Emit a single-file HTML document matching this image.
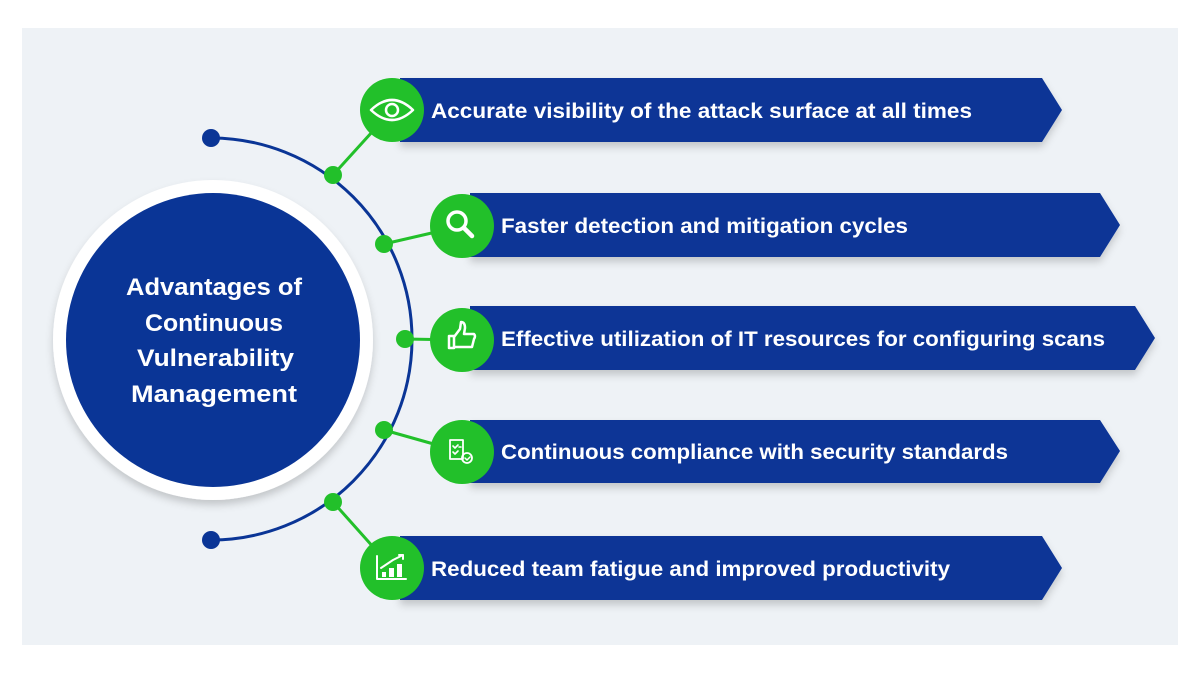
<!DOCTYPE html>
<html><head><meta charset="utf-8"><style>
body{margin:0;background:#fff;}
svg{display:block}
text{font-family:"Liberation Sans",sans-serif}
</style></head><body>
<svg width="1200" height="675" viewBox="0 0 1200 675">
<defs>
<filter id="sh" x="-10%" y="-30%" width="120%" height="170%"><feDropShadow dx="0" dy="5" stdDeviation="4" flood-color="#000" flood-opacity="0.18"/></filter>
</defs>
<rect x="22" y="28" width="1156" height="617" fill="#eef2f6"/>
<circle cx="213" cy="340" r="160" fill="#fff" filter="url(#sh)"/>
<circle cx="213" cy="340" r="147" fill="#0a3596"/>
<g fill="#fff" font-size="24" font-weight="bold" lengthAdjust="spacingAndGlyphs">
<text x="126" y="295" textLength="176" lengthAdjust="spacingAndGlyphs">Advantages of</text>
<text x="145" y="331" textLength="138" lengthAdjust="spacingAndGlyphs">Continuous</text>
<text x="137" y="366" textLength="157" lengthAdjust="spacingAndGlyphs">Vulnerability</text>
<text x="131" y="402" textLength="166" lengthAdjust="spacingAndGlyphs">Management</text>
</g>
<path d="M211 138 A201 201 0 0 1 211 540" fill="none" stroke="#0a3596" stroke-width="3"/>
<circle cx="211" cy="138" r="9" fill="#0a3596"/>
<circle cx="211" cy="540" r="9" fill="#0a3596"/>
<g stroke="#22c02a" stroke-width="3">
<line x1="333" y1="175" x2="392" y2="110"/>
<line x1="384" y1="244" x2="462" y2="226"/>
<line x1="405" y1="339" x2="462" y2="340"/>
<line x1="384" y1="430" x2="462" y2="452"/>
<line x1="333" y1="502" x2="392" y2="568"/>
</g>
<g fill="#22c02a">
<circle cx="333" cy="175" r="9"/><circle cx="384" cy="244" r="9"/><circle cx="405" cy="339" r="9"/><circle cx="384" cy="430" r="9"/><circle cx="333" cy="502" r="9"/>
</g>
<g fill="#0a3596" filter="url(#sh)">
<polygon points="400,78 1042,78 1062,110 1042,142 400,142"/>
<polygon points="470,193 1100,193 1120,225 1100,257 470,257"/>
<polygon points="470,306 1135,306 1155,338 1135,370 470,370"/>
<polygon points="470,420 1100,420 1120,451 1100,483 470,483"/>
<polygon points="400,536 1042,536 1062,568 1042,600 400,600"/>
</g>
<g fill="#22c02a">
<circle cx="392" cy="110" r="32"/><circle cx="462" cy="226" r="32"/><circle cx="462" cy="340" r="32"/><circle cx="462" cy="452" r="32"/><circle cx="392" cy="568" r="32"/>
</g>
<g fill="none" stroke="#fff" stroke-width="2.5" stroke-linecap="round" stroke-linejoin="round">
<path d="M371 110 Q392 90 413 110 Q392 130 371 110Z"/><circle cx="392" cy="110" r="6"/>
<circle cx="457" cy="221" r="9" stroke-width="3.5"/><line x1="464" y1="228" x2="472" y2="236" stroke-width="4.5"/>
<rect x="449" y="336" width="5" height="12"/><path d="M454 337 L460 329 L461 322 Q465 322 465 328 L464 334 L474 334 Q476 336 474 339 L472 347 L454 347"/>
<rect x="450" y="440" width="13" height="19" stroke-width="1.8"/><path d="M453 446 l2 2 3-3 M453 452 l2 2 3-3 M459 447 h2" stroke-width="1.6"/><circle cx="467" cy="458" r="5" stroke-width="1.8"/><path d="M465 458 l2 2 3-3" stroke-width="1.5"/>
<path d="M377 556 V579 H406" stroke-width="2"/><rect x="382" y="572" width="4" height="5" fill="#fff" stroke="none"/><rect x="389" y="568" width="5" height="9" fill="#fff" stroke="none"/><rect x="397" y="564" width="5" height="13" fill="#fff" stroke="none"/><path d="M381 568 L393 560 L403 555 M399 555 h4 v4" stroke-width="2"/>
</g>
<g fill="#fff" font-size="21" font-weight="bold">
<text x="431" y="118" textLength="541" lengthAdjust="spacingAndGlyphs">Accurate visibility of the attack surface at all times</text>
<text x="501" y="233" textLength="407" lengthAdjust="spacingAndGlyphs">Faster detection and mitigation cycles</text>
<text x="501" y="346" textLength="604" lengthAdjust="spacingAndGlyphs">Effective utilization of IT resources for configuring scans</text>
<text x="501" y="459" textLength="507" lengthAdjust="spacingAndGlyphs">Continuous compliance with security standards</text>
<text x="431" y="576" textLength="519" lengthAdjust="spacingAndGlyphs">Reduced team fatigue and improved productivity</text>
</g>
</svg>
</body></html>
